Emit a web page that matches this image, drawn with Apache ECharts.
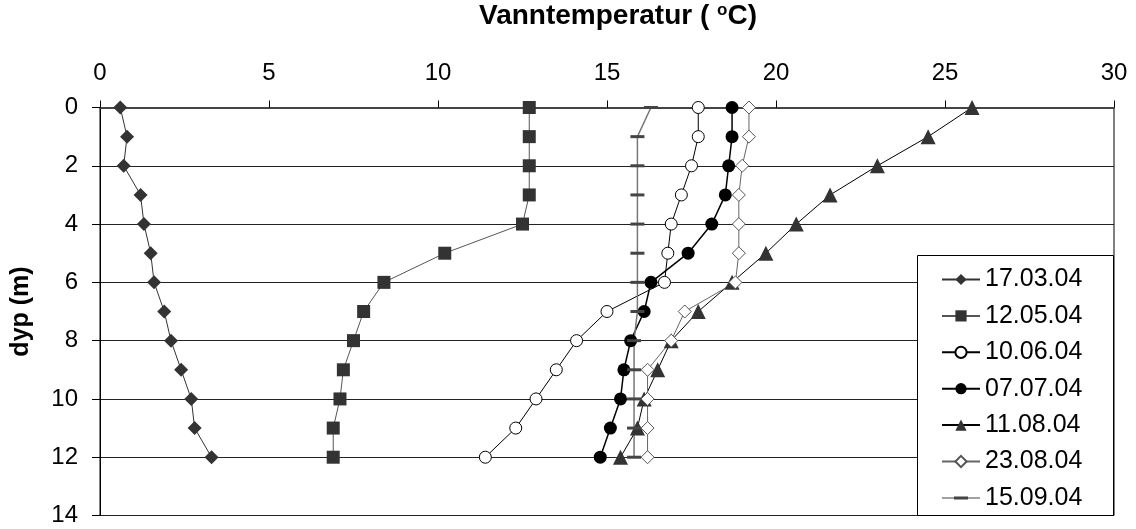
<!DOCTYPE html>
<html>
<head>
<meta charset="utf-8">
<style>
  html, body { margin: 0; padding: 0; background: #fff; }
  #chart { width: 1136px; height: 529px; }
</style>
<script src="https://cdn.jsdelivr.net/npm/echarts@6/dist/echarts.min.js"></script>
</head>
<body>
<div id="chart"></div>
<script>
// Depth (m) of each measurement
const depths = [0, 1, 2, 3, 4, 5, 6, 7, 8, 9, 10, 11, 12];

// Water temperature (°C) profiles per sampling date
const dates = ['17.03.04', '12.05.04', '10.06.04', '07.07.04', '11.08.04', '23.08.04', '15.09.04'];
const t170304 = [0.6, 0.8, 0.7, 1.2, 1.3, 1.5, 1.6, 1.9, 2.1, 2.4, 2.7, 2.8, 3.3];
const t120504 = [12.7, 12.7, 12.7, 12.7, 12.5, 10.2, 8.4, 7.8, 7.5, 7.2, 7.1, 6.9, 6.9];
const t100604 = [17.7, 17.7, 17.5, 17.2, 16.9, 16.8, 16.7, 15.0, 14.1, 13.5, 12.9, 12.3, 11.4];
const t070704 = [18.7, 18.7, 18.6, 18.5, 18.1, 17.4, 16.3, 16.1, 15.7, 15.5, 15.4, 15.1, 14.8];
const t110804 = [25.8, 24.5, 23.0, 21.6, 20.6, 19.7, 18.7, 17.7, 16.9, 16.5, 16.1, 15.9, 15.4];
const t230804 = [19.2, 19.2, 19.0, 18.9, 18.9, 18.9, 18.8, 17.3, 16.9, 16.2, 16.2, 16.2, 16.2];
const t150904 = [16.3, 15.9, 15.9, 15.9, 15.9, 15.9, 15.9, 15.9, 15.8, 15.8, 15.8, 15.8, 15.8];

// Axis ticks
const tempTicks = [0, 5, 10, 15, 20, 25, 30];
const depthTicks = [0, 2, 4, 6, 8, 10, 12, 14];

const FONT = 'Liberation Sans';
// Legend icon for the last profile: thin line with a short thick bar in the middle
// (the two zero-area corner points fix the icon's bounding box to 38 x 14)
const DASH_ICON = 'path://M0 0L0.01 0Z M38 14L37.99 14Z M0 6.5H38V7.5H0Z M12 5.5H26V8.5H12Z';

function pairs(temps) {
  return temps.map((t, i) => [t, depths[i]]);
}

const styles = [
  { data: t170304, symbol: 'diamond', size: 14, fill: '#333', stroke: '#333', line: '#333', lw: 1 },
  { data: t120504, symbol: 'rect', size: 13, fill: '#333', stroke: '#333', line: '#555', lw: 1 },
  { data: t100604, symbol: 'circle', size: 12, fill: '#fff', stroke: '#000', line: '#000', lw: 1 },
  { data: t070704, symbol: 'circle', size: 13, fill: '#000', stroke: '#000', line: '#000', lw: 1.5 },
  { data: t110804, symbol: 'triangle', size: 15, fill: '#333', stroke: '#333', line: '#000', lw: 1 },
  { data: t230804, symbol: 'diamond', size: 13, fill: '#fff', stroke: '#555', line: '#666', lw: 1 },
  { data: t150904, symbol: 'rect', size: [14, 3], fill: '#444', stroke: '#444', line: '#777', lw: 1.5 }
];

const series = styles.map((s, i) => ({
  name: dates[i],
  type: 'line',
  data: pairs(s.data),
  symbol: s.symbol,
  symbolSize: s.size,
  showAllSymbol: true,
  itemStyle: { color: s.fill, borderColor: s.stroke, borderWidth: s.fill === '#fff' ? 1 : 0 },
  lineStyle: { color: s.line, width: s.lw },
  emphasis: { disabled: true },
  animation: false,
  z: 2
}));

const legendData = dates.map((d, i) => (i === dates.length - 1 ? { name: d, icon: DASH_ICON } : { name: d }));

const chart = echarts.init(document.getElementById('chart'), null, { renderer: 'canvas' });

chart.setOption({
  animation: false,
  backgroundColor: '#fff',
  grid: {
    left: 100, right: 22, top: 107.5, bottom: 13.5,
    containLabel: false,
    outerBoundsMode: 'none',
    show: true, borderColor: '#000', borderWidth: 1, backgroundColor: 'transparent'
  },
  // Framed white panel behind the legend, flush with the plot's right and bottom edges
  graphic: [{
    type: 'rect',
    z: 3,
    silent: true,
    shape: { x: 917.5, y: 255.5, width: 196, height: 260 },
    style: { fill: '#fff', stroke: '#000', lineWidth: 1 }
  }],
  xAxis: {
    type: 'value',
    position: 'top',
    min: tempTicks[0],
    max: tempTicks[tempTicks.length - 1],
    interval: tempTicks[1] - tempTicks[0],
    name: 'Vanntemperatur ( {sup|o}C)',
    nameLocation: 'middle',
    nameGap: 76,
    nameTextStyle: {
      fontFamily: FONT, fontSize: 28, fontWeight: 'bold', color: '#000',
      padding: [0, 0, 0, 22],
      rich: { sup: { fontFamily: FONT, fontSize: 17, fontWeight: 'bold', verticalAlign: 'top', padding: [0, 0, 13, 0] } }
    },
    axisLine: { show: true, lineStyle: { color: '#444', width: 2 } },
    axisTick: { show: true, inside: false, length: 7, lineStyle: { color: '#000', width: 1 } },
    axisLabel: { fontFamily: FONT, fontSize: 24, color: '#000', margin: 22 },
    splitLine: { show: false }
  },
  yAxis: {
    type: 'value',
    inverse: true,
    min: depthTicks[0],
    max: depthTicks[depthTicks.length - 1],
    interval: depthTicks[1] - depthTicks[0],
    name: 'dyp (m)',
    nameLocation: 'middle',
    nameGap: 66,
    nameTextStyle: { fontFamily: FONT, fontSize: 25, fontWeight: 'bold', color: '#000' },
    axisLine: { show: true, lineStyle: { color: '#000', width: 1 } },
    axisTick: { show: true, length: 8, lineStyle: { color: '#000', width: 1 } },
    axisLabel: { fontFamily: FONT, fontSize: 24, color: '#000', margin: 22 },
    splitLine: { show: true, lineStyle: { color: '#222', width: 1 } }
  },
  legend: {
    orient: 'vertical',
    left: 917,
    top: 255,
    z: 4,
    padding: [12, 20, 0, 24],
    itemWidth: 38,
    itemHeight: 14,
    itemGap: 11.4,
    selectedMode: false,
    textStyle: { fontFamily: FONT, fontSize: 25, color: '#000', lineHeight: 25, padding: [0, 0, 0, 0] },
    data: legendData
  },
  series: series
});
</script>
</body>
</html>
